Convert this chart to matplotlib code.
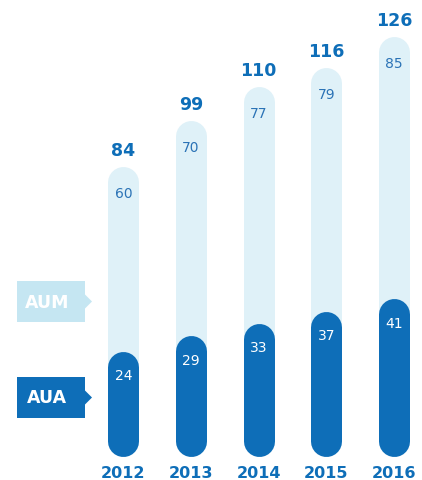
import matplotlib.pyplot as plt
from matplotlib.patches import Polygon

years = ['2012', '2013', '2014', '2015', '2016']
aum_total = [84, 99, 110, 116, 126]
aum_light = [60, 70, 77, 79, 85]
aua = [24, 29, 33, 37, 41]

DARK = '#0e6eb8'
LIGHT = '#dff1f8'
TAG_LIGHT = '#c5e6f2'

W, H = 422, 481
fig = plt.figure(figsize=(W / 100, H / 100), dpi=100)
ax = fig.add_axes([0, 0, 1, 1])
ax.set_xlim(-1.827, 4.416)
ax.set_ylim(-12.8, 143.3)
ax.axis('off')

lw = 31 * 72 / 100  # bar width in points (round caps)
x = list(range(len(years)))

for i in x:
    ax.plot([i, i], [0, aum_total[i]], color=LIGHT, lw=lw, solid_capstyle='round', zorder=1)
    ax.plot([i, i], [0, aua[i]], color=DARK, lw=lw, solid_capstyle='round', zorder=2)

    ax.annotate(str(aum_total[i]), (i, aum_total[i]), xytext=(0, 23), textcoords='offset points',
                ha='center', va='center', fontsize=12.5, fontweight='bold', color=DARK)
    ax.annotate(str(aum_light[i]), (i, aum_total[i]), xytext=(0, -8), textcoords='offset points',
                ha='center', va='center', fontsize=10, color='#2b73b6', zorder=3)
    ax.annotate(str(aua[i]), (i, aua[i]), xytext=(0, -6), textcoords='offset points',
                ha='center', va='center', fontsize=10, color='white', zorder=3)
    ax.annotate(years[i], (i, 0), xytext=(0, -23), textcoords='offset points',
                ha='center', va='center', fontsize=11.5, fontweight='bold', color=DARK)


def tag(label, top, bottom, color):
    # box with arrow on the right, pixel positions converted to figure fraction
    mid = (top + bottom) / 2
    pts = [(17, top), (85, top), (85, mid - 7), (92, mid), (85, mid + 7), (85, bottom), (17, bottom)]
    pts = [(px / W, 1 - py / H) for px, py in pts]
    fig.patches.append(Polygon(pts, closed=True, transform=fig.transFigure, color=color, lw=0))
    fig.text(47 / W, 1 - mid / H, label, ha='center', va='center', fontsize=12.5,
             fontweight='bold', color='white')


tag('AUM', 282, 323, TAG_LIGHT)
tag('AUA', 378, 419, DARK)

# unit label, cut off at the top edge in the original
fig.text(18 / W, 1 + 2 / H, '($ billion)', ha='left', va='baseline', fontsize=12,
         fontweight='bold', color=DARK)

fig.savefig('out.png', dpi=100)
